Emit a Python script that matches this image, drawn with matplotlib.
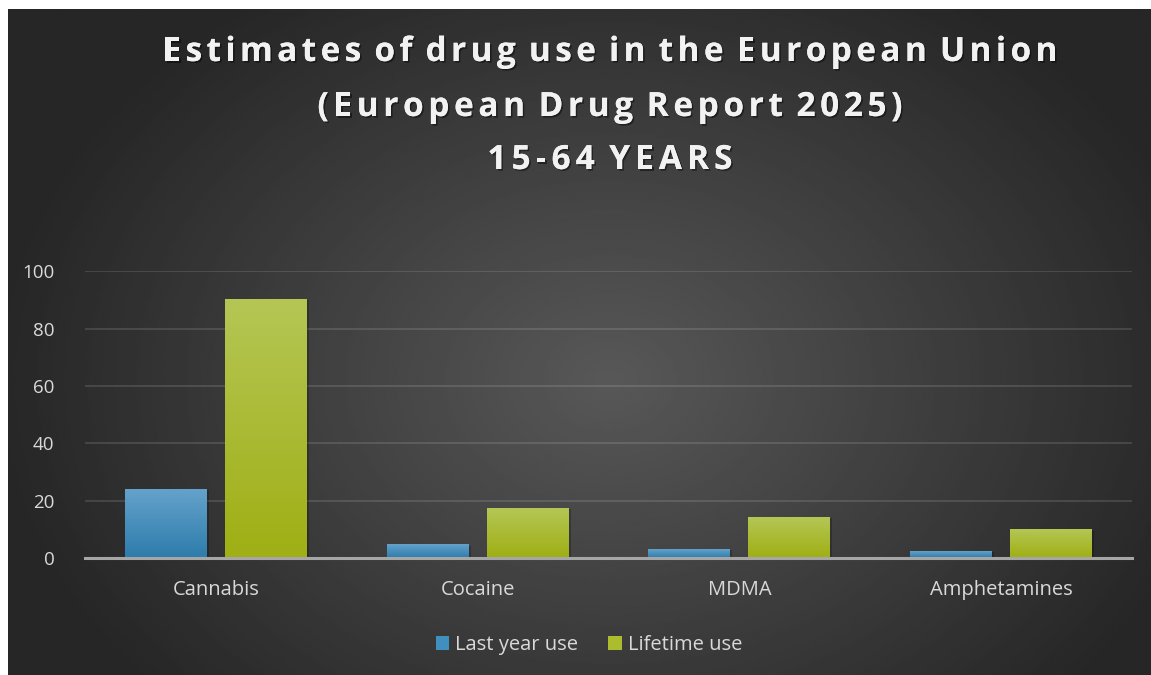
import numpy as np
import matplotlib
matplotlib.use('Agg')
import matplotlib.pyplot as plt
import matplotlib.patheffects as pe
from matplotlib import font_manager
from matplotlib.ft2font import FT2Font
from matplotlib.patches import Patch

categories = ['Cannabis', 'Cocaine', 'MDMA', 'Amphetamines']
last_year_use = [24.0, 4.6, 3.1, 2.4]
lifetime_use = [90.2, 17.4, 14.3, 9.8]
series_names = ['Last year use', 'Lifetime use']
title_lines = ['Estimates of drug use in the European Union',
               '(European Drug Report 2025)',
               '15-64 YEARS']
y_ticks = [0, 20, 40, 60, 80, 100]

W, H = 1151, 675
FONT = 'Open Sans'
TEXT_COLOR = '#d9d9d9'

fig = plt.figure(figsize=(W / 100, H / 100), dpi=100, facecolor='white')

# radial dark background (white strip left/top like the screenshot)
bg = fig.add_axes([8 / W, 0, 1 - 8 / W, 1 - 9 / H], zorder=-10)
gx, gy = np.meshgrid(np.linspace(8, W, 400), np.linspace(9, H, 300))
r = np.sqrt(((gx - 610) / 620) ** 2 + ((gy - 380) / 470) ** 2)
r = np.clip(r, 0, 1)
shade = (0x58 + (0x26 - 0x58) * r) / 255
bg.imshow(shade, cmap='gray', vmin=0, vmax=1, aspect='auto', interpolation='bilinear')
bg.set_axis_off()

title_fp = font_manager.FontProperties(family=FONT, weight='bold')
title_size = 24
SPACE_SCALE = 0.5


def advances(text, size, fp):
    font = FT2Font(font_manager.findfont(fp))
    font.set_size(size, 100)
    out = []
    for c in text:
        a = font.load_char(ord(c)).linearHoriAdvance / 65536
        out.append(a * SPACE_SCALE if c == ' ' else a)
    return out


def tracked_line(text, cx, baseline, size, width, fp):
    # draw text char by char so we can add letter spacing (fit to given width)
    adv = advances(text, size, fp)
    track = (width - sum(adv)) / (len(text) - 1)
    x = cx - width / 2
    for c, a in zip(text, adv):
        fig.text(x / W, 1 - baseline / H, c, fontproperties=fp, fontsize=size,
                 color='#f2f2f2', ha='left', va='baseline',
                 path_effects=[pe.withSimplePatchShadow(offset=(1.2, -1.2), shadow_rgbFace='black', alpha=0.45),
                               pe.Normal()])
        x += a + track


for line, base, width in zip(title_lines, [61, 116, 169], [895, 585, 245]):
    tracked_line(line, 610, base, title_size, width, title_fp)

# main plot
ax = fig.add_axes([85 / W, (H - 558) / H, 1047 / W, 286.6 / H])
ax.set_facecolor('none')
x = np.arange(len(categories))
bw = 0.313
off = 0.191

colors = [('#64a2cb', '#2d7cab'), ('#b5c655', '#9faf14')]
for vals, sign, (ctop, cbot) in zip([last_year_use, lifetime_use], [-1, 1], colors):
    bars = ax.bar(x + sign * off, vals, width=bw, color=cbot, zorder=2,
                  path_effects=[pe.SimplePatchShadow(offset=(1.5, -0.5), shadow_rgbFace='black', alpha=0.22),
                                pe.Normal()])
    c1 = np.array(matplotlib.colors.to_rgb(ctop))
    c2 = np.array(matplotlib.colors.to_rgb(cbot))
    grad = np.linspace(0, 1, 100)[:, None, None]
    img = c1[None, None, :] * (1 - grad) + c2[None, None, :] * grad
    for b in bars:
        ax.imshow(img, extent=(b.get_x(), b.get_x() + b.get_width(), 0, b.get_height()),
                  aspect='auto', zorder=2.1, interpolation='bilinear')

ax.set_xlim(-0.5, len(categories) - 0.5)
ax.set_ylim(0, 100)
ax.set_yticks(y_ticks)
ax.set_xticks(x)
ax.set_xticklabels(categories)
ax.grid(axis='y', color='white', alpha=0.12, linewidth=1.5)
ax.set_axisbelow(True)
for s in ['top', 'right', 'left']:
    ax.spines[s].set_visible(False)
ax.spines['bottom'].set_color('#a6a6a6')
ax.spines['bottom'].set_linewidth(2.2)
ax.spines['bottom'].set_zorder(3)
ax.tick_params(axis='both', length=0, colors=TEXT_COLOR)
ax.tick_params(axis='y', pad=22, labelsize=13.5)
ax.tick_params(axis='x', pad=16, labelsize=14.5)
for lab in ax.get_xticklabels() + ax.get_yticklabels():
    lab.set_fontfamily(FONT)

handles = [Patch(facecolor='#3f8fbf'), Patch(facecolor='#abbc2c')]
leg = fig.legend(handles, series_names, loc='center', bbox_to_anchor=(589 / W, 1 - 645 / H),
                 ncol=2, frameon=False, handlelength=0.67, handleheight=0.67,
                 handletextpad=0.3, columnspacing=1.5,
                 prop=font_manager.FontProperties(family=FONT, size=14.5))
for t in leg.get_texts():
    t.set_color(TEXT_COLOR)

fig.savefig('out.png', dpi=100, facecolor=fig.get_facecolor())
